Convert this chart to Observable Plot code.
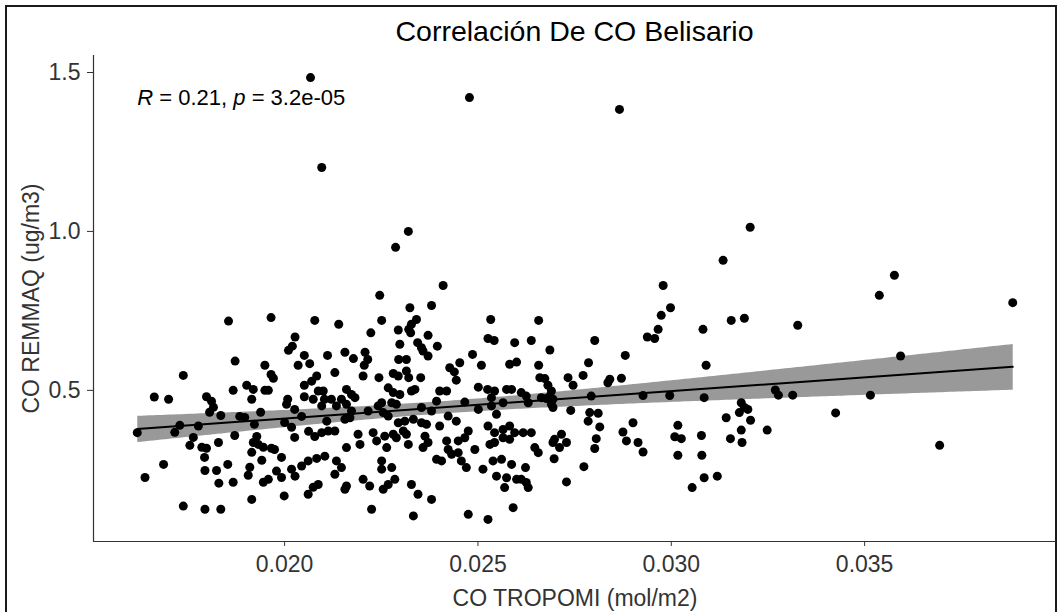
<!DOCTYPE html>
<html><head><meta charset="utf-8">
<script src="https://cdn.jsdelivr.net/npm/d3@7"></script>
<script src="https://cdn.jsdelivr.net/npm/@observablehq/plot@0.6"></script>
<style>
html,body{margin:0;padding:0;background:#fff;}
#wrap{position:relative;width:1058px;height:612px;overflow:hidden;font-family:"Liberation Sans",Arial,sans-serif;}
#frame{position:absolute;left:5px;top:5px;width:1052px;height:700px;border:2px solid #1a1a1a;box-sizing:border-box;}
#title{position:absolute;left:93px;width:963px;top:17px;text-align:center;font-size:28.5px;line-height:28px;color:#000;white-space:nowrap;}
#chart{position:absolute;left:0;top:48px;}
</style></head><body>
<div id="wrap"><div id="frame"></div><div id="title">Correlación De CO Belisario</div><div id="chart"></div></div>
<script>
const coTropomi = [
0.02067,0.02096,0.02478,0.02866,0.02320,0.02287,0.03204,0.03134,0.02410,0.02246,
0.02324,0.02380,0.02140,0.02251,0.02341,0.02328,0.02321,0.02326,0.02294,0.02223,
0.02371,0.02533,0.02526,0.02542,0.02595,0.02298,0.02344,0.02354,0.02358,0.02371,
0.02395,0.02111,0.02156,0.02178,0.02208,0.02215,0.02206,0.02295,0.02315,0.02486,
0.02453,0.02509,0.02582,0.02600,0.02130,0.02203,0.02244,0.02281,0.02294,0.02315,
0.02321,0.02352,0.02427,0.02439,0.02444,0.02160,0.02173,0.02182,0.02100,0.02103,
0.02268,0.02281,0.02298,0.02328,0.02337,0.02401,0.02419,0.02501,0.02525,0.02543,
0.02535,0.02574,0.02587,0.02393,0.02466,0.02251,0.01855,0.01965,0.02078,0.02027,
0.02020,0.02010,0.02051,0.01872,0.01949,0.02035,0.02065,0.01738,0.01965,0.01971,
0.02083,0.02070,0.02051,0.01902,0.01919,0.01867,0.01949,0.01958,0.01663,0.01700,
0.01798,0.01811,0.01915,0.02008,0.02051,0.02074,0.02087,0.01816,0.01806,0.01835,
0.01884,0.01897,0.01938,0.02005,0.02026,0.02044,0.01619,0.01716,0.01729,0.01777,
0.01871,0.01922,0.02000,0.02018,0.02026,0.02062,0.02078,0.01764,0.01755,0.01786,
0.01798,0.01793,0.01829,0.01928,0.01919,0.01932,0.01945,0.01966,0.01974,0.01915,
0.01941,0.01992,0.01687,0.01794,0.01824,0.01853,0.01910,0.01906,0.01979,0.01992,
0.02018,0.02044,0.02061,0.02083,0.01639,0.01830,0.01867,0.01945,0.01958,0.02061,
0.02074,0.02087,0.02027,0.01915,0.01999,0.01738,0.01794,0.01835,0.02096,0.02121,
0.02134,0.02147,0.02160,0.02173,0.02169,0.02156,0.02109,0.02113,0.02096,0.02130,
0.02242,0.02255,0.02277,0.02289,0.02216,0.02268,0.02354,0.02380,0.02423,0.02501,
0.02535,0.02565,0.02548,0.02294,0.02311,0.02333,0.02354,0.02367,0.02401,0.02444,
0.02475,0.02466,0.02449,0.02526,0.02543,0.02565,0.02582,0.02595,0.02582,0.02565,
0.02543,0.02531,0.02190,0.02195,0.02229,0.02238,0.02259,0.02264,0.02281,0.02289,
0.02315,0.02320,0.02307,0.02363,0.02371,0.02358,0.02419,0.02423,0.02432,0.02449,
0.02457,0.02470,0.02492,0.02160,0.02104,0.02134,0.02147,0.02130,0.02251,0.02251,
0.02277,0.02393,0.02406,0.02513,0.02539,0.02561,0.02587,0.02548,0.02574,0.02600,
0.02160,0.02156,0.02203,0.02220,0.02255,0.02268,0.02285,0.02328,0.02345,0.02380,
0.02569,0.02225,0.02333,0.02475,0.02526,0.02591,0.02979,0.02998,0.02974,0.02657,
0.03082,0.02966,0.02938,0.02957,0.02638,0.02802,0.02686,0.02881,0.02786,0.02657,
0.03090,0.02772,0.02733,0.02746,0.02660,0.02673,0.02681,0.02690,0.02686,0.02841,
0.02836,0.02871,0.02612,0.02625,0.02664,0.02677,0.02694,0.02793,0.02927,0.02996,
0.03085,0.02630,0.02690,0.02694,0.02740,0.02789,0.02811,0.02785,0.02815,0.02617,
0.02638,0.02698,0.02716,0.02729,0.02711,0.02694,0.02647,0.02656,0.02806,0.02802,
0.02697,0.02901,0.02875,0.02884,0.02914,0.02927,0.03017,0.03009,0.03026,0.03078,
0.03017,0.03079,0.02623,0.02774,0.02612,0.02625,0.02630,0.02729,0.03085,0.03119,
0.03054,0.03577,0.03538,0.03883,0.03155,0.03189,0.03327,0.03593,0.03269,0.03277,
0.03314,0.03515,0.03181,0.03189,0.03176,0.03198,0.03142,0.03205,0.03425,0.03181,
0.03248,0.03153,0.03183,0.03694
];
const coRemmaq = [
1.484,1.201,1.421,1.384,1.000,0.950,1.013,0.909,0.830,0.799,
0.760,0.767,0.708,0.720,0.723,0.708,0.692,0.681,0.690,0.681,
0.673,0.723,0.663,0.657,0.650,0.645,0.650,0.634,0.624,0.608,
0.639,0.610,0.620,0.600,0.620,0.597,0.579,0.597,0.597,0.613,
0.587,0.579,0.582,0.589,0.556,0.545,0.540,0.553,0.545,0.561,
0.540,0.540,0.571,0.558,0.532,0.503,0.487,0.477,0.498,0.472,
0.508,0.493,0.487,0.498,0.503,0.498,0.498,0.510,0.503,0.498,
0.477,0.503,0.503,0.466,0.463,0.461,0.718,0.729,0.720,0.668,
0.639,0.626,0.610,0.592,0.579,0.579,0.584,0.547,0.550,0.538,
0.545,0.529,0.516,0.516,0.503,0.500,0.500,0.500,0.479,0.472,
0.480,0.466,0.472,0.472,0.480,0.472,0.498,0.447,0.431,0.421,
0.418,0.415,0.431,0.456,0.440,0.418,0.367,0.368,0.390,0.388,
0.358,0.393,0.399,0.384,0.352,0.371,0.355,0.352,0.327,0.321,
0.318,0.289,0.336,0.355,0.336,0.330,0.321,0.318,0.314,0.305,
0.280,0.289,0.267,0.248,0.248,0.267,0.258,0.233,0.246,0.226,
0.252,0.262,0.278,0.286,0.226,0.208,0.211,0.211,0.220,0.173,
0.195,0.204,0.230,0.157,0.168,0.136,0.126,0.126,0.451,0.472,
0.451,0.472,0.456,0.435,0.414,0.409,0.403,0.372,0.367,0.372,
0.451,0.430,0.461,0.456,0.435,0.419,0.446,0.435,0.419,0.440,
0.451,0.461,0.425,0.398,0.403,0.409,0.398,0.393,0.388,0.403,
0.372,0.351,0.341,0.388,0.367,0.377,0.388,0.367,0.346,0.351,
0.336,0.330,0.362,0.330,0.367,0.341,0.356,0.320,0.362,0.351,
0.362,0.330,0.372,0.356,0.336,0.320,0.341,0.314,0.299,0.304,
0.278,0.257,0.314,0.320,0.293,0.278,0.257,0.236,0.278,0.252,
0.257,0.283,0.278,0.252,0.278,0.283,0.267,0.230,0.225,0.220,
0.199,0.189,0.220,0.199,0.189,0.204,0.220,0.204,0.173,0.157,
0.194,0.126,0.105,0.110,0.094,0.131,0.830,0.760,0.736,0.720,
0.692,0.692,0.668,0.663,0.657,0.657,0.627,0.610,0.587,0.579,
0.579,0.547,0.540,0.516,0.540,0.537,0.516,0.498,0.482,0.535,
0.524,0.538,0.493,0.482,0.477,0.474,0.472,0.482,0.484,0.484,
0.477,0.461,0.456,0.446,0.437,0.430,0.428,0.403,0.385,0.367,
0.367,0.346,0.362,0.336,0.320,0.336,0.320,0.304,0.348,0.317,
0.285,0.398,0.369,0.341,0.336,0.306,0.390,0.354,0.348,0.358,
0.296,0.296,0.257,0.260,0.220,0.210,0.194,0.212,0.225,0.230,
0.194,0.862,0.799,0.776,0.720,0.727,0.705,0.608,0.501,0.485,
0.485,0.485,0.461,0.446,0.430,0.440,0.414,0.406,0.429,0.375,
0.375,0.348,0.336,0.327
];
const xTicks = [0.020, 0.025, 0.030, 0.035];
const yTicks = [0.5, 1.0, 1.5];
const statLabels = ["R = 0.21, p = 3.2e-05"];

const data = coTropomi.map((x, i) => ({x, y: coRemmaq[i]}));
const [x0, x1] = d3.extent(coTropomi);
const [y0, y1] = d3.extent(coRemmaq);
const padX = (x1 - x0) * 0.05, padY = (y1 - y0) * 0.05;

const chart = Plot.plot({
  width: 1058, height: 564,
  marginLeft: 93, marginRight: 2, marginTop: 7, marginBottom: 71,
  style: {fontFamily: '"Liberation Sans", Arial, sans-serif', fontSize: "23px", color: "#333", background: "transparent", overflow: "visible"},
  x: {domain: [x0 - padX, x1 + padX], ticks: xTicks, tickFormat: d3.format(".3f"), tickSize: 5, tickPadding: 9,
      label: "CO TROPOMI (mol/m2)", labelAnchor: "center", labelOffset: 64, labelArrow: "none"},
  y: {domain: [y0 - padY, y1 + padY], ticks: yTicks, tickFormat: d3.format(".1f"), tickSize: 6, tickPadding: 7,
      label: "CO REMMAQ (ug/m3)", labelAnchor: "center", labelOffset: 71, labelArrow: "none"},
  marks: [
    Plot.linearRegressionY(data, {x: "x", y: "y", stroke: "none", fill: "#999999", fillOpacity: 1}),
    Plot.dot(data, {x: "x", y: "y", r: 4.5, fill: "#000", stroke: "none"}),
    Plot.linearRegressionY(data, {x: "x", y: "y", ci: 0, stroke: "#000", strokeWidth: 2}),
    Plot.ruleX([x0 - padX], {stroke: "#333", strokeWidth: 1.2}),
    Plot.ruleY([y0 - padY], {stroke: "#333", strokeWidth: 1.2}),
    Plot.text(statLabels, {x: () => x0, y: () => y1, text: d => d, textAnchor: "start", lineAnchor: "bottom", dy: 27, fontSize: 22, fill: "#000"})
  ]
});

d3.select(chart).selectAll("text").filter(function() { return this.textContent === statLabels[0]; }).each(function() {
  const parts = statLabels[0].split(/\b([Rp])(?= = )/);
  this.textContent = "";
  parts.forEach((p, i) => {
    if (!p) return;
    const ts = document.createElementNS("http://www.w3.org/2000/svg", "tspan");
    ts.textContent = p;
    if (i % 2 === 1) ts.setAttribute("font-style", "italic");
    this.appendChild(ts);
  });
});

document.getElementById("chart").appendChild(chart);
</script></body></html>
